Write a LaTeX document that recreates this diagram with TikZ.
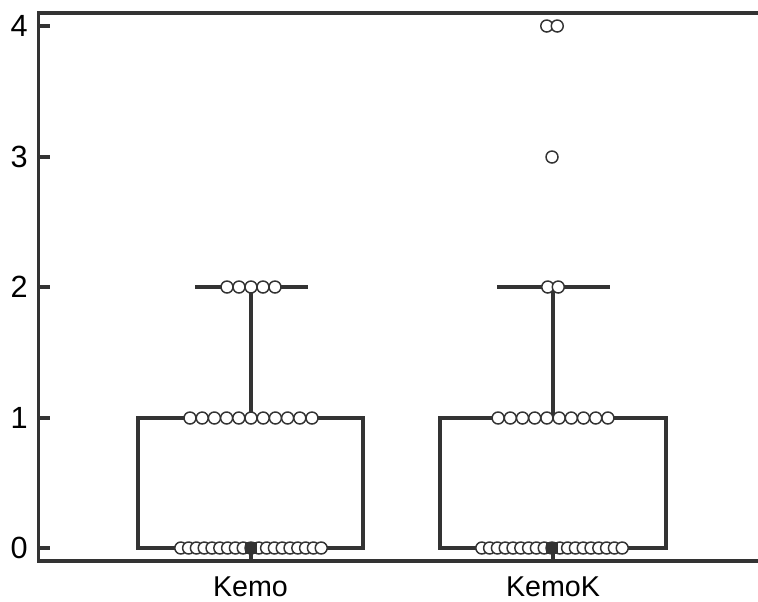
\documentclass[tikz,border=0pt]{standalone}
\usepackage{fontspec}
\setmainfont{Liberation Sans}
\begin{document}
\begin{tikzpicture}[x=0.75pt,y=-0.75pt,
  ink/.style={draw=black!80},
  axisline/.style={ink,line width=2.4pt},
  boxline/.style={ink,line width=2.4pt},
  whisk/.style={ink,line width=2.4pt},
  dotpt/.style={draw=black!80,fill=white,line width=1.1pt},
  medmark/.style={fill=black!80,draw=none,minimum width=9pt,minimum height=9.5pt,inner sep=0pt},
  ticklab/.style={anchor=east,inner sep=0pt,font=\fontsize{23}{27}\selectfont},
  catlab/.style={anchor=center,inner sep=0pt,font=\fontsize{21.5}{25}\selectfont}]
\useasboundingbox (0,0) rectangle (758,601);
% --- coordinates
\coordinate (O) at (38.5,561);
\coordinate (T) at (38.5,13);
\coordinate (TR) at (758,13);
\coordinate (BR) at (758,561);
% --- Kemo box
\draw[boxline] (138,548) rectangle (363,418);
\draw[whisk] (251,418) -- (251,287);
\draw[whisk] (195,287) -- (308,287);
% --- KemoK box
\draw[boxline] (440,548) rectangle (666,418);
\draw[whisk] (553,418) -- (553,287);
\draw[whisk] (497,287) -- (610,287);
% --- Kemo points
\foreach \i in {-9,...,9} \draw[dotpt] ({251+\i*7.8},548) circle[radius=4.5pt];
\foreach \i in {-5,...,5} \draw[dotpt] ({251+\i*12.2},418) circle[radius=4.5pt];
\foreach \i in {-2,...,2} \draw[dotpt] ({251+\i*12},287) circle[radius=4.5pt];
% --- KemoK points
\foreach \i in {-9,...,9} \draw[dotpt] ({552+\i*7.8},548) circle[radius=4.5pt];
\foreach \i in {-4.5,-3.5,...,4.5} \draw[dotpt] ({553+\i*12.2},418) circle[radius=4.5pt];
\foreach \i in {-0.5,0.5} \draw[dotpt] ({553+\i*10.5},287) circle[radius=4.5pt];
\draw[dotpt] (552,157) circle[radius=4.5pt];
\foreach \i in {-0.5,0.5} \draw[dotpt] ({552+\i*10.5},26) circle[radius=4.5pt];
% --- x ticks
\coordinate (xt1) at (251,561);
\coordinate (xt2) at (553,561);
\draw[axisline] (xt1) -- ++(0,-12);
\draw[axisline] (xt2) -- ++(0,-12);
% --- medians
\node[medmark] (m1) at (251,548) {};
\node[medmark] (m2) at (552,548) {};
% --- axes
\draw[axisline] (TR) -- (T) -- (O) -- (BR);
\foreach \v/\yy in {0/548,1/418,2/287,3/157,4/26}{
  \draw[axisline] (38.5,\yy) -- (50,\yy);
  \node[ticklab] (yl\v) at (28,\yy) {\v};
}
\node[catlab] (c1) at (250.5,587) {Kemo};
\node[catlab] (c2) at (553,587) {KemoK};
\end{tikzpicture}
\end{document}
